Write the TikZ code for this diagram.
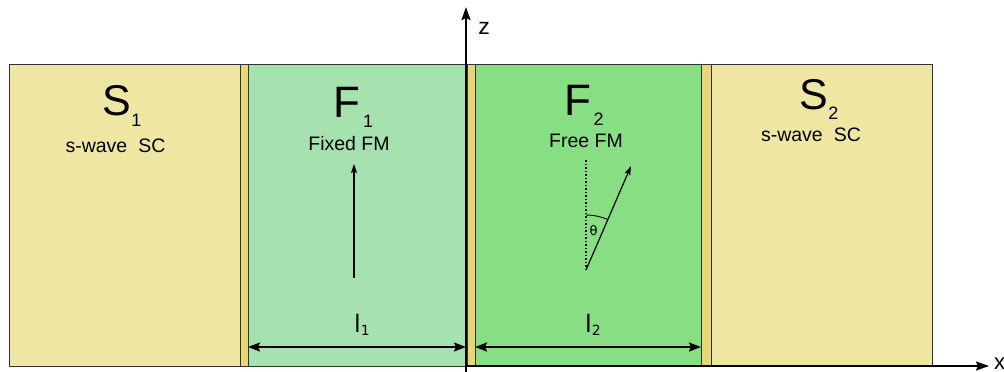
\documentclass[tikz,border=0pt]{standalone}
\usepackage{fontspec}
\setmainfont{Liberation Sans}
\newfontfamily\dejavu{DejaVu Sans}
\usetikzlibrary{arrows.meta}
\definecolor{scyel}{RGB}{238,230,162}
\definecolor{baryel}{RGB}{230,216,120}
\definecolor{fmone}{RGB}{166,225,176}
\definecolor{fmtwo}{RGB}{136,222,130}
\definecolor{edgegray}{RGB}{50,50,50}
\tikzset{
  layer/.style={draw=edgegray, line width=1pt, rectangle, anchor=north west, inner sep=0pt, minimum height=302pt},
  sclayer/.style={layer, fill=scyel},
  barrier/.style={layer, fill=baryel, minimum width=8pt},
  title/.style={anchor=base west, inner sep=0pt},
  sub/.style={inner sep=0pt, font=\fontsize{19.5}{19.5}\selectfont},
  dim/.style={line width=1.8pt, {Stealth[length=12pt,width=9pt,inset=2pt]}-{Stealth[length=12pt,width=9pt,inset=2pt]}},
  axis/.style={line width=1.8pt, -{Stealth[length=13pt,width=9pt,inset=2pt]}},
  moment/.style={line width=1.2pt, -{Stealth[length=9pt,width=6pt,inset=1.5pt]}},
}
\begin{document}
\begin{tikzpicture}[x=1pt,y=-1pt]
\useasboundingbox (0,0) rectangle (1004,372);
% layers
\node[sclayer, minimum width=231pt] (S1) at (9,64) {};
\node[barrier] (B1) at (240,64) {};
\node[layer, fill=fmone, minimum width=218pt] (F1) at (248,64) {};
\node[barrier] (B2) at (467,64) {};
\node[layer, fill=fmtwo, minimum width=226pt] (F2) at (475,64) {};
\node[barrier, minimum width=10pt] (B3) at (701,64) {};
\node[sclayer, minimum width=221pt] (S2) at (711,64) {};
% titles
\node[title] (s1t) at (102.5,115.5) {{\fontsize{43}{43}\selectfont S}\raisebox{-10.5pt}{\fontsize{18}{18}\selectfont 1}};
\node[title] (f1t) at (333.5,117) {{\fontsize{44}{44}\selectfont F}\hspace{2.5pt}\raisebox{-10pt}{\fontsize{18}{18}\selectfont 1}};
\node[title] (f2t) at (564,115) {{\fontsize{44}{44}\selectfont F}\hspace{2.5pt}\raisebox{-10pt}{\fontsize{18}{18}\selectfont 2}};
\node[title] (s2t) at (799.5,109) {{\fontsize{43}{43}\selectfont S}\raisebox{-10.5pt}{\fontsize{18}{18}\selectfont 2}};
\node[sub] (s1s) at (115.5,146) {s-wave\hspace{11pt}SC};
\node[sub] (f1s) at (349,144) {Fixed FM};
\node[sub] (f2s) at (586,140.5) {Free FM};
\node[sub] (s2s) at (811,135) {s-wave\hspace{11pt}SC};
% moments
\coordinate (m1a) at (354,278);
\coordinate (m1b) at (354,164);
\draw[moment] (m1a) -- (m1b);
\coordinate (m2a) at (586,270);
\coordinate (m2b) at (631,166);
\coordinate (m2d) at (586,160);
\draw[line width=1.5pt, dotted] (m2a) -- (m2d);
\draw[moment] (m2a) -- (m2b);
\draw[line width=0.9pt] (586,215) arc[start angle=90, end angle=66.4, radius=55pt];
\node[inner sep=0pt, font=\dejavu\fontsize{13}{13}\selectfont] (th) at (593.5,231) {θ};
% dimension arrows
\coordinate (d1a) at (248,347);
\coordinate (d1b) at (466,347);
\coordinate (d2a) at (475,347);
\coordinate (d2b) at (701,347);
\draw[dim] (d1a) -- (d1b);
\draw[dim] (d2a) -- (d2b);
\node[title, font=\dejavu] (l1) at (354,332) {{\fontsize{24}{24}\selectfont l}\raisebox{-3pt}{\fontsize{14}{14}\selectfont 1}};
\node[title, font=\dejavu] (l2) at (585,332) {{\fontsize{24}{24}\selectfont l}\raisebox{-3pt}{\fontsize{14}{14}\selectfont 2}};
% axes
\coordinate (o) at (466,366);
\coordinate (zb) at (466,372);
\coordinate (zt) at (466,7);
\coordinate (xt) at (989,366);
\draw[axis] (zb) -- (zt);
\draw[axis] (o) -- (xt);
\node[inner sep=0pt, font=\fontsize{23}{23}\selectfont] (zl) at (484,28) {z};
\node[inner sep=0pt, anchor=west, font=\fontsize{22}{22}\selectfont] (xl) at (994,364) {x};
\end{tikzpicture}
\end{document}
